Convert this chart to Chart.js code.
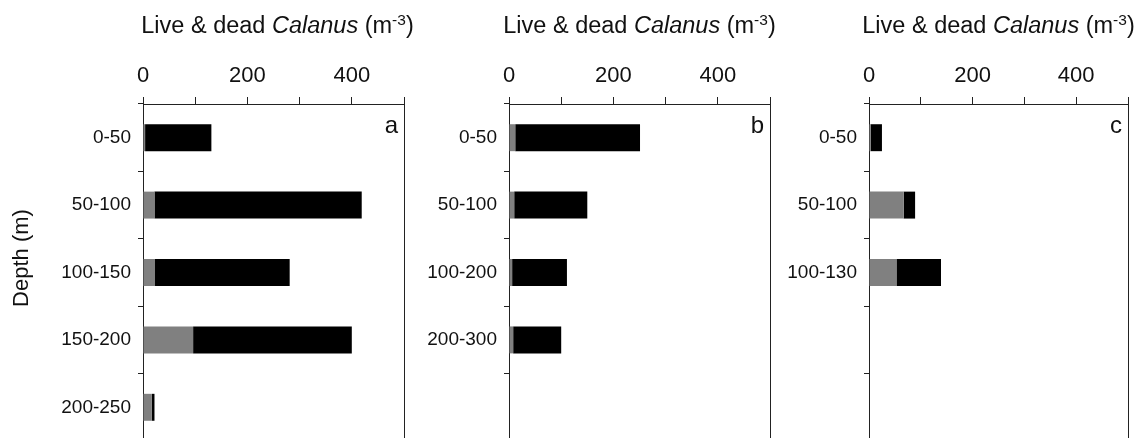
<!DOCTYPE html>
<html><head><meta charset="utf-8">
<script src="https://cdn.jsdelivr.net/npm/chart.js@4.4.1/dist/chart.umd.min.js"></script>
<style>
html,body{margin:0;padding:0;overflow:hidden;background:#fff;width:1139px;height:438px;}
canvas{position:absolute;top:0;}
</style></head><body>
<canvas id="ca" width="430" height="441" style="left:0px"></canvas>
<canvas id="cb" width="380" height="441" style="left:410px"></canvas>
<canvas id="cc" width="364" height="441" style="left:775px"></canvas>
<script>
// ---- data ----
const categoriesA = ['0-50', '50-100', '100-150', '150-200', '200-250'];
const deadA = [4, 22, 23, 96, 17];
const liveA = [127, 397, 258, 304, 5];

const categoriesB = ['0-50', '50-100', '100-200', '200-300', ''];
const deadB = [12, 10, 6, 8];
const liveB = [239, 140, 105, 92];

const categoriesC = ['0-50', '50-100', '100-130', '', ''];
const deadC = [3, 67, 53];
const liveC = [22, 22, 86];

const xTickLabels = ['0', '200', '400'];
const panelLetters = ['a', 'b', 'c'];
const xMin = 0, xMax = 500, xStep = 100;

// ---- styling ----
const FONT = "'Liberation Sans', Arial, Helvetica, sans-serif";
const AXIS = '#222';
const TEXT = '#111';
Chart.defaults.font.family = FONT;
Chart.defaults.color = TEXT;

const panelText = {
  id: 'panelText',
  afterDraw(chart, args, o) {
    const ctx = chart.ctx, ca = chart.chartArea;
    ctx.save();
    ctx.fillStyle = TEXT;
    // right border
    ctx.strokeStyle = AXIS; ctx.lineWidth = 1;
    const rx = Math.round(ca.right) + 0.5;
    ctx.beginPath(); ctx.moveTo(rx, ca.top); ctx.lineTo(rx, chart.height); ctx.stroke();
    // title: Live & dead Calanus (m-3)
    const fs = 23.5, sup = 15.5;
    const parts = [
      {t: 'Live & dead ', f: `${fs}px ${FONT}`, dy: 0},
      {t: 'Calanus', f: `italic ${fs}px ${FONT}`, dy: 0},
      {t: ' (m', f: `${fs}px ${FONT}`, dy: 0},
      {t: '-3', f: `${sup}px ${FONT}`, dy: -8},
      {t: ')', f: `${fs}px ${FONT}`, dy: 0}
    ];
    let w = 0;
    parts.forEach(p => { ctx.font = p.f; p.w = ctx.measureText(p.t).width; w += p.w; });
    let x = (ca.left + ca.right) / 2 - w / 2 + (o.titleShift || 0);
    const by = 33;
    ctx.textBaseline = 'alphabetic'; ctx.textAlign = 'left';
    parts.forEach(p => { ctx.font = p.f; ctx.fillText(p.t, x, by + p.dy); x += p.w; });
    // panel letter
    ctx.font = `24px ${FONT}`;
    ctx.textAlign = 'right';
    ctx.fillText(o.letter, ca.right - 6, ca.top + 29);
    // depth axis title
    if (o.depth) {
      ctx.translate(22, 258);
      ctx.rotate(-Math.PI / 2);
      ctx.font = `22px ${FONT}`;
      ctx.textAlign = 'center'; ctx.textBaseline = 'middle';
      ctx.fillText('Depth (m)', 0, 0);
    }
    ctx.restore();
  }
};

function makePanel(id, labels, dead, live, letter, yWidth, padRight, depth, titleShift) {
  new Chart(document.getElementById(id), {
    type: 'bar',
    data: {
      labels: labels,
      datasets: [
        {label: 'Dead', data: dead, backgroundColor: '#808080', borderWidth: 0,
         barPercentage: 0.4, categoryPercentage: 1.0},
        {label: 'Live', data: live, backgroundColor: '#000000', borderWidth: 0,
         barPercentage: 0.4, categoryPercentage: 1.0}
      ]
    },
    options: {
      indexAxis: 'y',
      responsive: false,
      animation: false,
      layout: {padding: {left: 0, right: padRight, top: 0, bottom: 0}},
      plugins: {
        legend: {display: false},
        tooltip: {enabled: false},
        panelText: {letter: letter, depth: depth, titleShift: titleShift}
      },
      scales: {
        x: {
          position: 'top', stacked: true, min: xMin, max: xMax,
          afterFit: s => { s.height = 104; s.paddingLeft = 0; s.paddingRight = 0; },
          ticks: {
            stepSize: xStep, padding: 8, autoSkip: false, maxRotation: 0,
            font: {size: 22},
            callback: v => xTickLabels.includes(String(v)) ? String(v) : ''
          },
          grid: {display: true, drawOnChartArea: false, drawTicks: true, tickLength: 7, color: AXIS, lineWidth: 1},
          border: {display: true, color: AXIS, width: 1}
        },
        y: {
          stacked: true,
          afterFit: s => { s.width = yWidth; s.paddingTop = 0; s.paddingBottom = 0; },
          ticks: {padding: 7, font: {size: 19}, autoSkip: false},
          grid: {display: true, offset: true, drawOnChartArea: false, drawTicks: true, tickLength: 5, color: AXIS, lineWidth: 1},
          border: {display: true, color: AXIS, width: 1}
        }
      }
    },
    plugins: [panelText]
  });
}

makePanel('ca', categoriesA, deadA, liveA, panelLetters[0], 143, 26, true, 4);
makePanel('cb', categoriesB, deadB, liveB, panelLetters[1], 99, 20, false, 0);
makePanel('cc', categoriesC, deadC, liveC, panelLetters[2], 94, 11, false, 0);
</script>
</body></html>
